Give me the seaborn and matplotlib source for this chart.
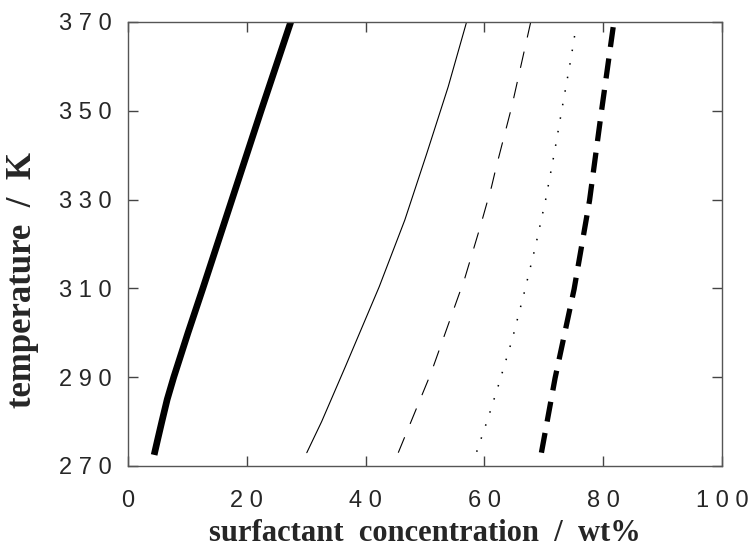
import matplotlib
matplotlib.use("Agg")
import matplotlib.pyplot as plt
import seaborn as sns

# curves: temperature (K) vs surfactant wt%
t_thick = [272.5, 276, 280, 285, 290, 300, 310, 330, 350, 370]
x_thick = [4.4, 5.0, 5.7, 6.6, 7.7, 10.1, 12.6, 17.5, 22.4, 27.4]

t_thin = [273, 280, 292.4, 310.4, 325.4, 340.4, 355.4, 370]
x_thin = [30.1, 32.6, 36.6, 42.3, 46.6, 50.3, 53.9, 57.0]

t_dash = [273, 290.9, 312.3, 323.9, 332.9, 337.4, 350.9, 370]
x_dash = [45.5, 51.0, 56.7, 59.3, 61.2, 62.0, 64.6, 67.8]

t_dot = [273.2, 280.7, 287.9, 298.6, 309.0, 319.5, 329.9, 340.7, 351.5, 362.0, 369.5]
x_dot = [58.7, 60.6, 62.3, 64.7, 66.7, 68.6, 70.3, 71.8, 73.2, 74.6, 75.5]

t_bigdash = [273, 289.8, 309.8, 329.8, 349.8, 370]
x_bigdash = [69.6, 71.9, 75.1, 77.7, 79.7, 81.8]

xticks = [0, 20, 40, 60, 80, 100]
yticks = [270, 290, 310, 330, 350, 370]

sns.set_style("ticks")

fig = plt.figure(figsize=(7.53, 5.58), dpi=100)
ax = fig.add_axes([128 / 753, 1 - 466 / 558, 594 / 753, 444 / 558])

sns.lineplot(x=x_thick, y=t_thick, sort=False, estimator=None, color="black",
             linewidth=4.8, solid_capstyle="butt", ax=ax)
sns.lineplot(x=x_thin, y=t_thin, sort=False, estimator=None, color="black",
             linewidth=0.8, ax=ax)
sns.lineplot(x=x_dash, y=t_dash, sort=False, estimator=None, color="black",
             linewidth=0.8, linestyle=(0, (15, 13)), ax=ax)
sns.lineplot(x=x_dot, y=t_dot, sort=False, estimator=None, color="black",
             linewidth=1.1, linestyle=(0, (1, 8)), ax=ax)
sns.lineplot(x=x_bigdash, y=t_bigdash, sort=False, estimator=None, color="black",
             linewidth=3.8, linestyle=(0, (3.8, 2.2)), ax=ax)

ax.set_xlim(0, 100)
ax.set_ylim(270, 370)
ax.set_xticks(xticks)
ax.set_yticks(yticks)
# the original uses widely spaced digits
ax.set_xticklabels([" ".join(str(v)) for v in xticks], family="Liberation Sans", fontsize=17)
ax.set_yticklabels([" ".join(str(v)) for v in yticks], family="Liberation Sans", fontsize=17)
ax.tick_params(axis="both", direction="in", length=7, width=1, color="#444444",
               top=True, right=True)
ax.tick_params(axis="x", pad=17)
ax.tick_params(axis="y", pad=12)

for s in ax.spines.values():
    s.set_visible(True)
    s.set_linewidth(1)
    s.set_color("#555555")

ax.set_xlabel("surfactant  concentration  /  wt%", family="Liberation Serif",
              fontweight="bold", fontsize=22)
ax.set_ylabel("temperature  /  K", family="Liberation Serif",
              fontweight="bold", fontsize=25)
ax.xaxis.set_label_coords(0.5, -0.12)
ax.yaxis.set_label_coords(-0.15, 0.42)

fig.savefig("out.png", dpi=100)
